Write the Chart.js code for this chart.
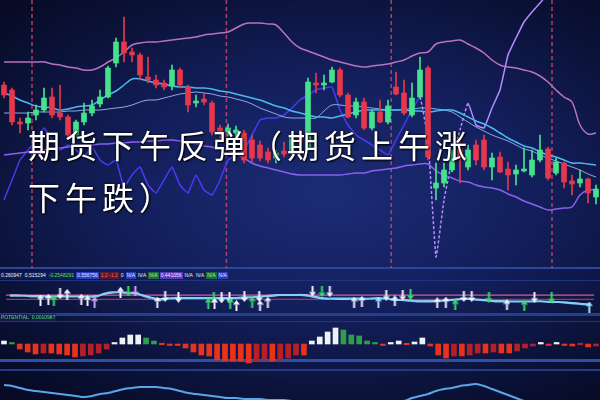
<!DOCTYPE html>
<html>
<head>
<meta charset="utf-8">
<title>期货下午反弹</title>
<script src="https://cdn.jsdelivr.net/npm/chart.js@4.4.0/dist/chart.umd.min.js"></script>
<style>
  html, body { margin: 0; padding: 0; }
  body {
    width: 600px; height: 400px; overflow: hidden; position: relative;
    background: radial-gradient(ellipse 75% 65% at 55% 48%, #1c2c76 0%, #131f5c 45%, #0b1238 80%, #070b26 100%);
    font-family: 'Liberation Sans', Arial, sans-serif;
  }
  canvas { position: absolute; left: 0; z-index: 2; }
  #main { top: 0; }
  #signal { top: 280px; }
  #hist { top: 322px; }
  #osc { top: 370px; }
  .rule { position: absolute; left: 0; width: 600px; z-index: 1; }
  .strip { position: absolute; left: 0; display: flex; gap: 1px; font-size: 5px; line-height: 7px; white-space: nowrap; z-index: 3; }
  .strip span { padding: 0 1px; background: rgba(20, 30, 80, 0.8); color: #e8ecff; }
  .strip .green { color: #4be070; }
  .strip .blue { background: #2a3ec0; }
  .strip .red { background: #5a1828; color: #ff6070; }
  .strip .purple { background: #5a3ab8; }
  .strip .gbox { background: #1f6a3a; color: #9ff0b0; }
  #title {
    position: absolute; left: 28px; top: 118px; z-index: 5;
    font-family: 'Noto Sans CJK SC', sans-serif; font-size: 32px; line-height: 52px;
    letter-spacing: 5px; color: #ffffff; white-space: nowrap;
    text-shadow: 0 0 3px rgba(0, 0, 0, 0.9), 1px 1px 2px #000;
  }
</style>
</head>
<body>
<canvas id="main" width="600" height="268"></canvas>
<canvas id="signal" width="600" height="40"></canvas>
<canvas id="hist" width="600" height="48"></canvas>
<canvas id="osc" width="600" height="30"></canvas>

<div class="rule" style="top:267px;height:2px;background:#2c46a0"></div>
<div class="rule" style="top:280px;height:1px;background:#1f3580"></div>
<div class="rule" style="top:313px;height:3px;background:#22408c"></div>
<div class="rule" style="top:321px;height:1px;background:#1f3580"></div>
<div class="rule" style="top:359px;height:3px;background:#2d4fa8"></div>
<div class="rule" style="top:369px;height:2px;background:#203c88"></div>

<div class="strip" id="infoStrip" style="top:272px"></div>
<div class="strip" id="potStrip" style="top:314px"></div>

<div id="title">期货下午反弹（期货上午涨<br>下午跌）</div>

<script>
// ---- candles (price units) ----
const opens  = [183,178,146,145,153,158,171,155,151,133,146,155,164,171,205,226,216,213,191,188,185,182,198,181,165,169,165,140,136,135,135,128,123,116,110,117,116,131,121,185,183,186,198,173,153,166,140,156,146,181,175,153,171,200,80,85,98,118,101,123,128,101,111,99,94,97,93,108,119,95,105,87,85,89,71];
const highs  = [186,180,150,156,163,180,180,183,153,148,165,168,178,202,230,251,220,215,211,193,188,203,200,183,173,175,167,143,144,142,138,133,127,120,118,126,133,138,190,195,193,201,200,175,170,170,158,168,168,196,188,185,211,202,105,105,118,128,123,128,133,115,116,106,103,120,118,133,121,110,106,93,98,90,83];
const lows   = [170,143,135,138,148,156,150,148,131,131,143,152,161,170,201,206,206,188,185,180,178,178,180,156,161,163,133,130,132,131,105,106,107,105,105,111,113,123,120,175,178,185,171,150,150,138,138,145,144,173,153,151,170,108,68,81,96,85,98,103,98,88,95,78,83,96,91,106,88,93,80,73,81,65,64];
const closes = [173,146,144,150,158,170,153,151,133,146,155,162,171,200,226,215,213,193,188,183,181,198,183,163,167,166,136,136,140,138,108,110,110,108,115,114,131,126,186,183,185,198,173,151,166,140,156,146,162,174,155,170,198,111,85,98,116,111,118,108,101,110,96,93,98,98,108,118,90,106,86,84,89,75,79];

// ---- overlay lines on the price panel ----
const upperBand = [206,206,206,206,206,206,204,203,201,200,198,198,201,206,210,216,223,225,226,226,227,228,229,230,231,233,234,235,236,240,244,245,245,244,243,235,226,220,217,214,211,208,206,204,202,201,202,203,204,206,208,212,215,216,224,226,227,228,224,220,215,208,203,201,200,198,196,192,186,178,171,166,143,134,135];
const midLine   = [175,172,168,165,162,161,160,158,159,161,162,163,168,173,177,183,189,189,187,185,184,182,181,181,180,180,179,177,176,174,172,170,168,165,162,160,157,155,153,151,151,150,152,154,156,158,158,158,158,158,158,157,157,156,157,158,158,155,151,147,144,140,135,130,126,122,120,116,113,111,108,105,105,104,103];
const avgLine   = [155,155,155,155,156,156,156,156,157,157,158,158,158,159,160,161,163,166,168,168,170,172,174,175,176,175,174,172,171,169,167,164,160,157,154,151,150,150,150,150,157,163,163,162,162,161,160,159,158,158,159,159,160,160,159,158,156,151,146,141,137,133,130,127,123,119,117,113,110,107,104,101,98,94,91];
const lowerBand = [113,114,115,116,117,118,119,120,121,122,123,123,124,124,125,125,126,126,127,127,128,128,127,126,124,122,121,119,118,114,110,105,102,100,98,96,94,93,93,93,93,93,93,94,95,95,97,98,99,100,102,103,104,104,97,93,90,87,86,83,81,80,78,74,71,67,64,61,58,59,60,61,73,78,78];
const swingLine = [68,88,108,118,128,140,128,118,123,118,111,121,108,103,108,81,93,101,83,75,88,101,83,75,93,78,73,88,108,113,118,133,148,150,150,153,160,168,173,178,180,181,158,143,133,128,123,118,113,128,143,158,171,128,11,68,108,138,165,143,140,160,178,213,230,246,256,265,275,290,null,null,null,null,null];
const sessionBreaks = [3.5, 27.8, 48.4, 68.5];

// ---- signal panel ----
const maFast = [26,26,26,25,25,25,25,25,25,25,25,25,29,31,31,30,30,26,23,20,22,23,23,23,23,23,23,23,23,23,24,24,25,26,27,27,27,27,26,24,22,22,22,22,22,22,22,23,22,20,20,19,18,18,18,19,20,21,22,21,20,19,18,18,18,18,18,18,18,17,17,16,15,14,13];
const maSlow = [27,27,26,26,26,25,25,25,25,25,25,26,28,30,31,31,29,27,24,22,22,22,23,23,23,23,23,23,23,23,23,24,25,25,26,27,27,28,27,25,23,22,21,21,22,22,22,22,22,21,20,20,19,19,19,19,19,20,21,21,21,20,19,19,18,18,18,18,18,18,17,17,16,15,14];
const bandLevels = [27, 21];
const buyWhite  = [[3.9,20],[4.9,21],[7.3,28],[9.1,21],[9.9,19],[14.1,31],[18.8,17],[26.1,15],[28.9,12],[31.9,12],[32.9,17],[43.9,17],[44.9,18],[49.1,19],[54.5,16],[55.6,17],[63.4,13]];
const buyGreen  = [[5.6,19],[25.3,15],[28.1,15],[30.9,17],[56.8,13],[65.6,12]];
const buyPurple = [[10.8,17]];
const buyCyan   = [[47,17],[73.9,10]];
const sellWhite = [[6.4,29],[19.8,25],[21.5,24],[27,23],[28,23],[29.9,25],[31.8,25],[38.6,33],[40.8,32],[48,27],[50.1,27],[57.9,25],[58.9,25],[66.9,24]];
const sellGreen = [[15.1,33],[26,24],[39.8,32],[51.1,28],[61.1,24],[69.1,23]];
const sellPurple = [[16,33]];

// ---- histogram + bottom oscillator ----
const histValues = [3,1,-5,-8,-10,-9,-9,-10,-11,-13,-12,-11,-9,-5,1,6,9,9,6,3,0,-1,-1,-4,-8,-11,-12,-16,-17,-17,-17,-19,-17,-16,-17,-16,-14,-11,-11,3,7,12,16,14,9,8,3,1,-1,1,3,0,2,6,-2,-11,-14,-12,-12,-11,-9,-9,-8,-9,-9,-7,-4,-2,1,-1,1,-1,-2,0,-3,-2];
const oscLine = [15,14,12,10,9,8,7,6,5,4,3,4,6,7,9,11,12,13,13,13,12,11,9,7,6,5,4,3,2,2,1,1,1,0,0,0,-1,-1,-1,-1,-1,-1,-2,-2,-2,-2,-2,-1,-1,-1,-1,2,4,6,9,11,12,14,15,16,14,11,8,5,2,-1,-3,-4,-5,-6,-6,-7,-7,-8,-8];

// ---- text strips ----
const infoLabels = ['0.260947','0.515294','-0.2548291','0.556756','1.2  -1.2','0','N/A','N/A','N/A','0.441056','N/A','N/A','N/A','N/A'];
const infoKinds  = ['plain','plain','green','blue','red','plain','blue','plain','gbox','purple','plain','plain','gbox','blue'];
const potLabels  = ['POTENTIAL','0.0010987'];

infoLabels.forEach((t, i) => {
  const s = document.createElement('span');
  s.textContent = t;
  if (infoKinds[i] !== 'plain') s.className = infoKinds[i];
  document.getElementById('infoStrip').appendChild(s);
});
potLabels.forEach(t => {
  const s = document.createElement('span');
  s.textContent = t;
  s.className = 'green';
  document.getElementById('potStrip').appendChild(s);
});

const RED = '#e5384c';
const GREEN = '#45e28e';

const baseOptions = (yMin, yMax) => ({
  responsive: false,
  animation: false,
  devicePixelRatio: 1,
  layout: { padding: 0 },
  plugins: { legend: { display: false }, tooltip: { enabled: false } },
  scales: {
    x: { display: false, offset: true, grid: { display: false } },
    y: { display: false, min: yMin, max: yMax }
  }
});

// dashed session separators
const breakLines = {
  id: 'breakLines',
  beforeDatasetsDraw(chart) {
    const { ctx, chartArea, scales: { x } } = chart;
    ctx.save();
    ctx.strokeStyle = 'rgba(205, 70, 105, 0.85)';
    ctx.lineWidth = 1.5;
    ctx.setLineDash([4, 3]);
    sessionBreaks.forEach(b => {
      const px = x.getPixelForValue(b);
      ctx.beginPath();
      ctx.moveTo(px, chartArea.top);
      ctx.lineTo(px, chartArea.bottom);
      ctx.stroke();
    });
    ctx.restore();
  }
};

const candleLabels = opens.map((_, i) => String(i));
const candleColor = (i) => closes[i] >= opens[i] ? GREEN : RED;

const lineSet = (data, color, width) => ({
  type: 'line', data: data, borderColor: color, borderWidth: width,
  pointRadius: 0, tension: 0.35, order: 2, spanGaps: false
});

new Chart(document.getElementById('main'), {
  type: 'bar',
  data: {
    labels: candleLabels,
    datasets: [
      {
        label: 'wick',
        data: lows.map((l, i) => [l, highs[i]]),
        backgroundColor: ctx => candleColor(ctx.dataIndex),
        barThickness: 1, grouped: false, order: 1
      },
      {
        label: 'body',
        data: opens.map((o, i) => [o, closes[i]]),
        backgroundColor: ctx => candleColor(ctx.dataIndex),
        barThickness: 5, minBarLength: 2, grouped: false, order: 0
      },
      lineSet(upperBand, '#b872c0', 1.5),
      lineSet(midLine, '#4bb8f0', 1.5),
      lineSet(avgLine, '#8ea8e6', 1),
      lineSet(lowerBand, '#8a60f0', 1.5),
      {
        ...lineSet(swingLine, '#4a3af0', 1.5),
        tension: 0.1,
        segment: {
          borderColor: ctx => ctx.p0DataIndex >= 52 ? '#b48cff' : '#4a3af0',
          borderDash: ctx => (ctx.p0DataIndex >= 52 && ctx.p0DataIndex < 58) ? [3, 2] : undefined
        }
      }
    ]
  },
  options: baseOptions(0, 268),
  plugins: [breakLines]
});

// arrow markers for the signal panel
function arrowIcon(color, dir) {
  const c = document.createElement('canvas');
  c.width = 7; c.height = 11;
  const g = c.getContext('2d');
  g.fillStyle = color;
  if (dir === 'down') { g.translate(0, 11); g.scale(1, -1); }
  g.beginPath();
  g.moveTo(3.5, 0); g.lineTo(7, 4.5); g.lineTo(0, 4.5);
  g.closePath(); g.fill();
  g.fillRect(2.5, 4.5, 2, 6.5);
  return c;
}

const pts = arr => arr.map(([t, v]) => ({ x: t, y: v }));
const arrowSet = (arr, color, dir) => ({
  type: 'scatter', data: pts(arr), pointStyle: arrowIcon(color, dir), pointRadius: 5, order: 0
});
const tLine = (arr, color, width) => ({
  type: 'line', data: arr.map((v, t) => ({ x: t, y: v })), borderColor: color,
  borderWidth: width, pointRadius: 0, tension: 0.4, order: 1
});
const levelLine = (level, color) => ({
  type: 'line', data: [{ x: -0.5, y: level }, { x: 74.5, y: level }],
  borderColor: color, borderWidth: 1.2, pointRadius: 0, order: 2
});
const sigOptions = baseOptions(0, 40);
sigOptions.scales.x = { type: 'linear', display: false, min: -0.5, max: 74.5 };

new Chart(document.getElementById('signal'), {
  type: 'scatter',
  data: {
    datasets: [
      levelLine(bandLevels[0], '#cf5d98'),
      levelLine(bandLevels[1], '#b8303e'),
      tLine(maFast, '#7fcff8', 2),
      tLine(maSlow, '#e4ecff', 1),
      arrowSet(buyWhite, '#f2f2ff', 'up'),
      arrowSet(buyGreen, '#34e066', 'up'),
      arrowSet(buyPurple, '#cfa6ff', 'up'),
      arrowSet(buyCyan, '#9fe4f4', 'up'),
      arrowSet(sellWhite, '#f2f2ff', 'down'),
      arrowSet(sellGreen, '#34e066', 'down'),
      arrowSet(sellPurple, '#cfa6ff', 'down')
    ]
  },
  options: sigOptions
});

// histogram: colour follows sign and direction of change
const histColor = (i) => {
  const v = histValues[i];
  const prev = i > 0 ? histValues[i - 1] : v;
  if (v > 0) return v >= prev ? '#eef2f4' : '#2f9e4c';
  return v <= prev ? '#e8321e' : '#b4202a';
};

new Chart(document.getElementById('hist'), {
  type: 'bar',
  data: {
    labels: histValues.map((_, i) => String(i)),
    datasets: [{
      data: histValues,
      backgroundColor: ctx => histColor(ctx.dataIndex),
      barThickness: 5, minBarLength: 1.5
    }]
  },
  options: baseOptions(-26, 22)
});

new Chart(document.getElementById('osc'), {
  type: 'line',
  data: {
    labels: candleLabels,
    datasets: [{ data: oscLine, borderColor: '#5aa6ec', borderWidth: 2, pointRadius: 0, tension: 0.4 }]
  },
  options: baseOptions(0, 30)
});
</script>
</body>
</html>
